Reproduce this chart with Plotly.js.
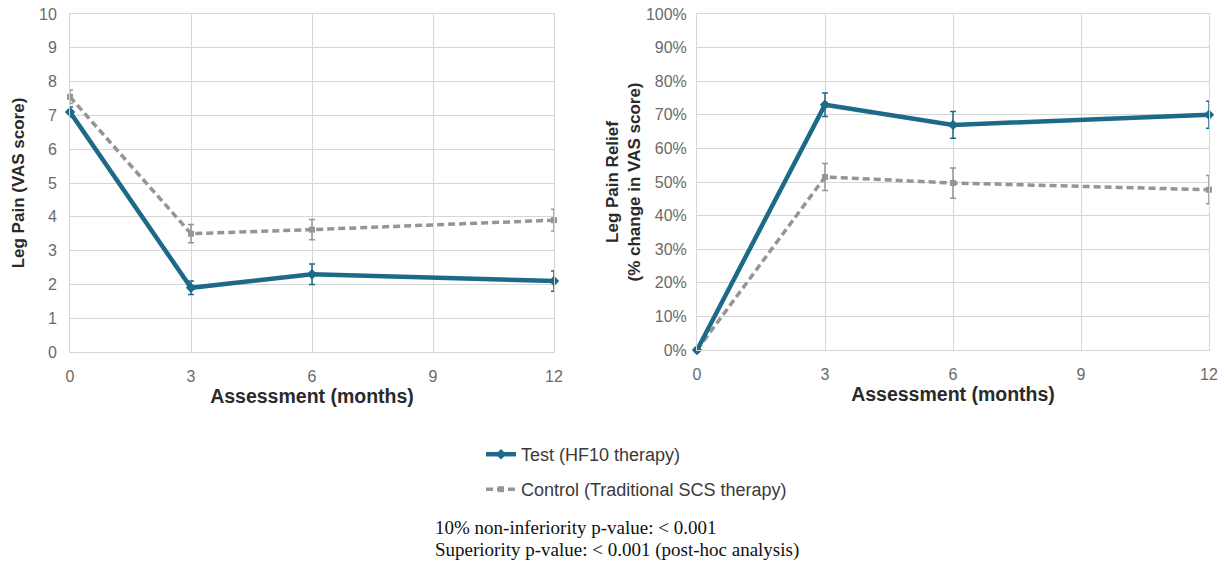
<!DOCTYPE html>
<html>
<head>
<meta charset="utf-8">
<script src="https://cdn.plot.ly/plotly-3.0.1.min.js"></script>
<style>html,body{margin:0;padding:0;background:#fff;}#chart{width:1225px;height:569px;}</style>
</head>
<body>
<div id="chart"></div>
<script>
// ---- data ----
const months = [0, 3, 6, 12];
const xTicks = [0, 3, 6, 9, 12];
const painTest = [7.1, 1.9, 2.3, 2.1];
const painTestErr = [0.15, 0.2, 0.3, 0.3];
const painCtrl = [7.55, 3.5, 3.62, 3.9];
const painCtrlErr = [0.2, 0.27, 0.3, 0.32];
const reliefTest = [0, 0.73, 0.67, 0.70];
const reliefTestErr = [0, 0.035, 0.04, 0.04];
const reliefCtrl = [0, 0.515, 0.497, 0.477];
const reliefCtrlErr = [0, 0.04, 0.045, 0.042];
const seriesNames = ["Test (HF10 therapy)", "Control (Traditional SCS therapy)"];
const notes = ["10% non-inferiority p-value: &lt; 0.001", "Superiority p-value: &lt; 0.001 (post-hoc analysis)"];

const W = 1225, H = 569;
const testColor = "#1d6a88";
const ctrlColor = "#959595";
const sans = "Liberation Sans, Arial, sans-serif";
const serif = "Liberation Serif, Times New Roman, serif";

function testTrace(y, err, xa, ya, show) {
  return {
    x: months, y: y, xaxis: xa, yaxis: ya, type: "scatter", mode: "lines+markers",
    name: seriesNames[0], showlegend: show, legend: "legend", cliponaxis: false,
    line: {color: testColor, width: 4.5},
    marker: {symbol: "diamond", size: 8, color: testColor},
    error_y: {type: "data", array: err, visible: true, color: testColor, thickness: 1.5, width: 3}
  };
}
function ctrlTrace(y, err, xa, ya, show) {
  return {
    x: months, y: y, xaxis: xa, yaxis: ya, type: "scatter", mode: "lines+markers",
    name: seriesNames[1], showlegend: show, legend: "legend2", cliponaxis: false,
    line: {color: ctrlColor, width: 3.5, dash: "7px,4px"},
    marker: {symbol: "square", size: 6, color: ctrlColor},
    error_y: {type: "data", array: err, visible: true, color: ctrlColor, thickness: 1.5, width: 3}
  };
}

const traces = [
  ctrlTrace(painCtrl, painCtrlErr, "x", "y", true),
  testTrace(painTest, painTestErr, "x", "y", true),
  ctrlTrace(reliefCtrl, reliefCtrlErr, "x2", "y2", false),
  testTrace(reliefTest, reliefTestErr, "x2", "y2", false)
];

const grid = "#d6d6d6";
const tickFont = {family: sans, size: 16, color: "#6a6a6a"};
const titleFont = {family: sans, size: 19.5, color: "#2a2a2a", weight: "bold"};
const yTitleFont = {family: sans, size: 17, color: "#2a2a2a", weight: "bold"};

function xAxis(domain, anchor) {
  return {
    domain: domain, anchor: anchor, range: [0, 12], tickmode: "array", tickvals: xTicks,
    ticktext: xTicks.map(String), showgrid: true, gridcolor: grid, gridwidth: 1,
    showline: true, linecolor: grid, mirror: true, zeroline: false,
    ticks: "outside", ticklen: 10, tickcolor: "rgba(0,0,0,0)",
    tickfont: tickFont, automargin: false,
    title: {text: "Assessment (months)", font: titleFont, standoff: 4}
  };
}

const layout = {
  width: W, height: H,
  margin: {l: 0, r: 0, t: 0, b: 0},
  paper_bgcolor: "#fff", plot_bgcolor: "#fff",
  font: {family: sans},
  xaxis: xAxis([70 / W, 554 / W], "y"),
  xaxis2: xAxis([697 / W, 1209 / W], "y2"),
  yaxis: {
    domain: [1 - 352 / H, 1 - 14 / H], anchor: "x", range: [0, 10], dtick: 1,
    showgrid: true, gridcolor: grid, showline: true, linecolor: grid, mirror: true, zeroline: false,
    ticks: "outside", ticklen: 9, tickcolor: "rgba(0,0,0,0)", tickfont: tickFont, automargin: false,
    title: {text: "Leg Pain (VAS score)", font: yTitleFont, standoff: 10}
  },
  yaxis2: {
    domain: [1 - 350 / H, 1 - 14 / H], anchor: "x2", range: [0, 1], dtick: 0.1, tickformat: ".0%",
    showgrid: true, gridcolor: grid, showline: true, linecolor: grid, mirror: true, zeroline: false,
    ticks: "outside", ticklen: 6, tickcolor: "rgba(0,0,0,0)", tickfont: tickFont, automargin: false,
    title: {text: "Leg Pain Relief<br>(% change in VAS score)", font: yTitleFont, standoff: 0}
  },
  legend: {
    x: 481 / W, y: 1 - 436 / H, xanchor: "left", yanchor: "top",
    font: {family: sans, size: 18, color: "#3a3a3a"}, bgcolor: "rgba(0,0,0,0)", itemwidth: 30
  },
  legend2: {
    x: 481 / W, y: 1 - 471 / H, xanchor: "left", yanchor: "top",
    font: {family: sans, size: 18, color: "#3a3a3a"}, bgcolor: "rgba(0,0,0,0)", itemwidth: 30
  },
  annotations: [
    {xref: "paper", yref: "paper", x: 433 / W, y: 1 - 527 / H, xanchor: "left", yanchor: "middle",
     text: notes[0], showarrow: false, font: {family: serif, size: 19, color: "#111"}},
    {xref: "paper", yref: "paper", x: 433 / W, y: 1 - 550 / H, xanchor: "left", yanchor: "middle",
     text: notes[1], showarrow: false, font: {family: serif, size: 19, color: "#111"}}
  ]
};

Plotly.newPlot("chart", traces, layout, {displayModeBar: false, staticPlot: true});
</script>
</body>
</html>
